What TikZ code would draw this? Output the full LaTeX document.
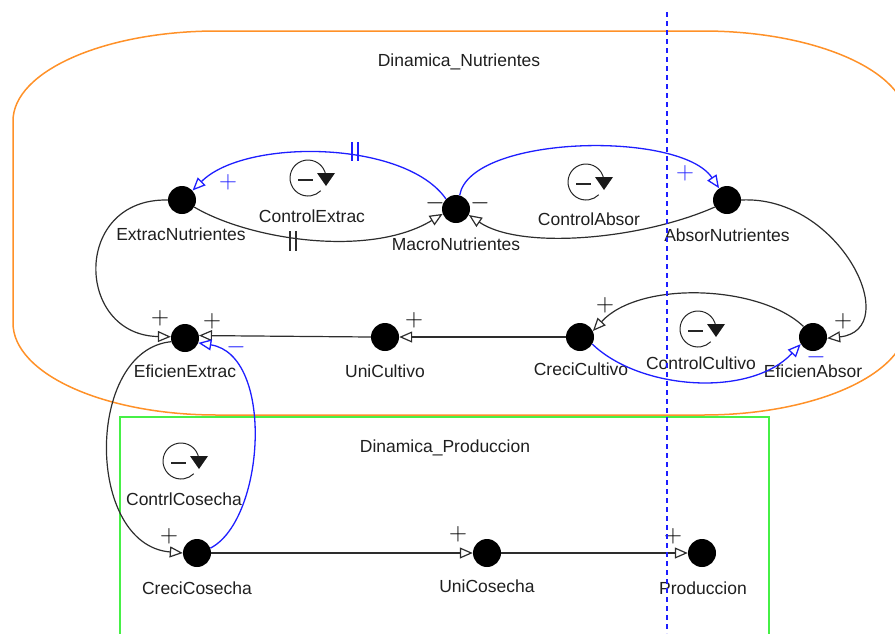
\documentclass[tikz,border=0pt]{standalone}
\usepackage{fontspec}
\setmainfont{Liberation Sans}
\usetikzlibrary{arrows.meta}
\definecolor{orangeline}{RGB}{255,145,40}
\definecolor{greenline}{RGB}{70,240,70}
\definecolor{linkblue}{RGB}{30,30,255}
\definecolor{linkgray}{RGB}{45,45,45}
\begin{document}
\begin{tikzpicture}[x=1pt,y=-1pt,
  var/.style={circle,fill=black,minimum size=28pt,inner sep=0pt},
  lbl/.style={font=\fontsize{17.5}{20}\selectfont,text=black!88,inner sep=0pt,anchor=base},
  link/.style={draw=linkgray,line width=1.2pt,-{Triangle[open,length=13pt,width=11pt]}},
  bluelink/.style={draw=linkblue,line width=1.3pt,-{Triangle[open,length=13pt,width=11pt]}},
  sign/.style={font=\fontsize{24}{24}\selectfont,inner sep=0pt,text=black},
  bluesign/.style={sign,text=linkblue},
  delay/.style={line width=1.2pt},
  loopicon/.pic={
    \draw[line width=1pt,black!85] (-10:18) arc[start angle=-10,end angle=-315,radius=18];
    \fill[black!90] (9,-5) -- (27,-5) -- (18,8) -- cycle;
    \draw[line width=1.2pt,black!85] (-10,2) -- (5,2);
  }
]
\useasboundingbox (0,0) rectangle (895,633);
\begin{scope}
  \clip (0,0) rectangle (895,633);
  % sector boundaries
  \draw[greenline,line width=1.5pt] (120,417) rectangle (769,650);
  \draw[orangeline,line width=1.5pt]
    (217,31) -- (703,31)
    arc[start angle=-90,end angle=0,x radius=204,y radius=90] -- (907,323)
    arc[start angle=0,end angle=90,x radius=204,y radius=92] -- (217,415)
    arc[start angle=90,end angle=180,x radius=204,y radius=92] -- (13,121)
    arc[start angle=180,end angle=270,x radius=204,y radius=90] -- cycle;
\end{scope}

\node[lbl] (tNut) at (459,66) {Dinamica\_Nutrientes};
\node[lbl] (tProd) at (445,452) {Dinamica\_Produccion};

% variables
\node[var] (EN) at (182,200) {};
\node[var] (MN) at (456,209) {};
\node[var] (AN) at (727,200) {};
\node[var] (EE) at (185,338) {};
\node[var] (UC) at (385,337) {};
\node[var] (CC) at (580,337) {};
\node[var] (EA) at (813,337) {};
\node[var] (CCo) at (197,553) {};
\node[var] (UCo) at (487,553) {};
\node[var] (PR) at (702,553) {};

\node[lbl] (lEN) at (181,240) {ExtracNutrientes};
\node[lbl] (lMN) at (456,250) {MacroNutrientes};
\node[lbl] (lAN) at (727,241) {AbsorNutrientes};
\node[lbl] (lEE) at (185,377) {EficienExtrac};
\node[lbl] (lUC) at (385,377) {UniCultivo};
\node[lbl] (lCC) at (581,375) {CreciCultivo};
\node[lbl] (lEA) at (813,377) {EficienAbsor};
\node[lbl] (lCCo) at (197,594) {CreciCosecha};
\node[lbl] (lUCo) at (487,592) {UniCosecha};
\node[lbl] (lPR) at (703,594) {Produccion};

% feedback loops
\pic at (308,178) {loopicon};
\pic at (586,182) {loopicon};
\pic at (698,329) {loopicon};
\pic at (181,461) {loopicon};
\node[lbl] (loopEx) at (312,222) {ControlExtrac};
\node[lbl] (loopAb) at (589,225) {ControlAbsor};
\node[lbl] (loopCu) at (701,369) {ControlCultivo};
\node[lbl] (loopCo) at (184,505) {ContrlCosecha};

% causal links
\draw[bluelink] (MN.135) .. controls (405,140) and (245,138) .. (EN.42);
\draw[link] (EN.-30) .. controls (250,240) and (370,258) .. (MN.200);
\draw[bluelink] (MN.75) .. controls (470,135) and (680,130) .. (AN.124);
\draw[link] (AN.210) .. controls (640,240) and (520,250) .. (MN.-25);
\draw[link] (EN.180) .. controls (72,198) and (75,335) .. (EE.175);
\draw[link] (UC.west) -- (EE.10);
\draw[link] (CC.west) -- (UC.east);
\draw[link] (EA.132) .. controls (760,285) and (640,280) .. (CC.25);
\draw[bluelink] (CC.-30) .. controls (640,390) and (750,398) .. (EA.-150);
\draw[link] (AN.east) .. controls (840,195) and (905,330) .. (EA.-5);
\draw[link] (EE.-165) .. controls (85,350) and (85,545) .. (CCo.180);
\draw[bluelink] (CCo.20) .. controls (265,520) and (275,355) .. (EE.-20);
\draw[link] (CCo.east) -- (UCo.west);
\draw[link] (UCo.east) -- (PR.west);

% delay marks
\draw[delay,linkblue] (352,142) -- (352,161) (358,142) -- (358,161);
\draw[delay,linkgray] (290,231) -- (290,251) (296,231) -- (296,251);

% link polarities
\node[bluesign] (sA) at (228,182) {$\mathbf{+}$};
\node[bluesign] (sB) at (685,173) {$\mathbf{+}$};
\node[sign] (sC) at (435,203) {$\mathbf{-}$};
\node[sign] (sD) at (480,203) {$\mathbf{-}$};
\node[sign] (sE) at (160,318) {$\mathbf{+}$};
\node[sign] (sF) at (212,321) {$\mathbf{+}$};
\node[sign] (sG) at (414,320) {$\mathbf{+}$};
\node[bluesign] (sH) at (236,347) {$\mathbf{-}$};
\node[sign] (sI) at (605,305) {$\mathbf{+}$};
\node[sign] (sJ) at (843,321) {$\mathbf{+}$};
\node[bluesign] (sK) at (816,357) {$\mathbf{-}$};
\node[sign] (sL) at (169,536) {$\mathbf{+}$};
\node[sign] (sM) at (458,534) {$\mathbf{+}$};
\node[sign] (sN) at (673,536) {$\mathbf{+}$};

% divider
\draw[linkblue,line width=1.4pt,dash pattern=on 5pt off 4pt] (667,12) -- (667,633);
\end{tikzpicture}
\end{document}
